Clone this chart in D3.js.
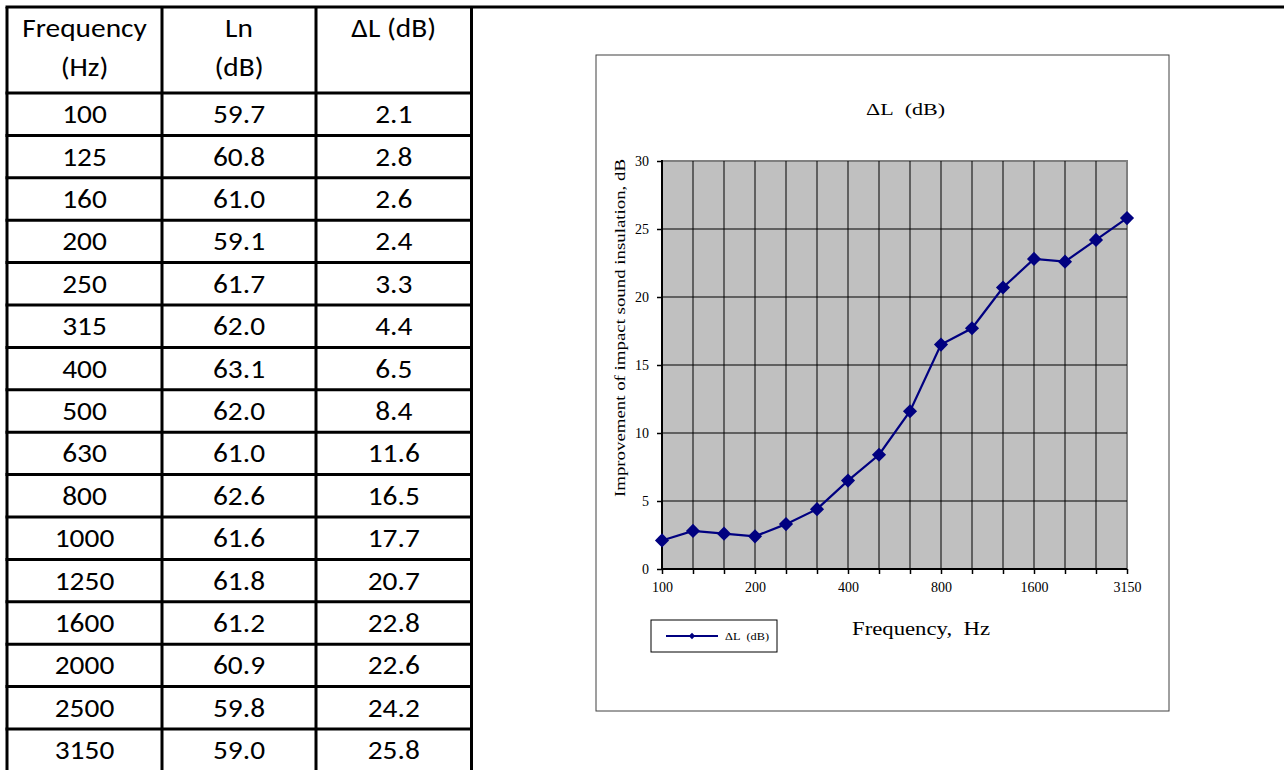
<!DOCTYPE html>
<html>
<head>
  <meta charset="utf-8"/>
  <title>Impact sound insulation</title>
  <style type="text/css">
    body {
      padding:0;
      margin:0;
      background-color:white;
    }
    .cell { font-family: Carlito, "Open Sans", Lato, sans-serif; font-size: 26px; fill: #000; }
    .chart text { font-family: "Liberation Serif", "DejaVu Serif", serif; fill: #000; }
  </style>
  <script src="https://cdn.jsdelivr.net/npm/d3@7"></script>
</head>
<body>
<script type="text/javascript">

  // DATA
  var freqs = ["100", "125", "160", "200", "250", "315", "400", "500", "630", "800",
               "1000", "1250", "1600", "2000", "2500", "3150"];
  var lnValues = ["59.7", "60.8", "61.0", "59.1", "61.7", "62.0", "63.1", "62.0",
                  "61.0", "62.6", "61.6", "61.8", "61.2", "60.9", "59.8", "59.0"];
  var deltaL = [2.1, 2.8, 2.6, 2.4, 3.3, 4.4, 6.5, 8.4, 11.6, 16.5, 17.7, 20.7, 22.8, 22.6, 24.2, 25.8];
  var xTickLabels = ["100", "200", "400", "800", "1600", "3150"];
  var yTicks = [0, 5, 10, 15, 20, 25, 30];
  var headers = [["Frequency", "(Hz)"], ["Ln", "(dB)"], ["\u0394L (dB)"]];

  var w = 1284, h = 770;

  var svg = d3.select("body").append("svg")
              .attr("width", w)
              .attr("height", h);

  // TABLE
  var colEdges = [7, 162, 316, 471.5];
  var headTop = 7, headBottom = 93, rowH = 42.4;
  var rowY = d3.scaleLinear().domain([0, 1]).range([headBottom, headBottom + rowH]);
  var stretch = 1.13; // the source picture is stretched sideways

  var tableG = svg.append("g").attr("class", "table");

  // outer top line runs across the whole page
  tableG.append("line")
        .attr("x1", colEdges[0] - 1.5).attr("x2", w)
        .attr("y1", headTop).attr("y2", headTop)
        .attr("stroke", "#000").attr("stroke-width", 3);

  // vertical column lines
  tableG.selectAll("line.col").data(colEdges).enter().append("line")
        .attr("class", "col")
        .attr("x1", function(d) { return d; }).attr("x2", function(d) { return d; })
        .attr("y1", headTop).attr("y2", h)
        .attr("stroke", "#000").attr("stroke-width", 3);

  // horizontal row lines
  var rowLines = d3.range(0, freqs.length + 1);
  tableG.selectAll("line.row").data(rowLines).enter().append("line")
        .attr("class", "row")
        .attr("x1", colEdges[0] - 1.5).attr("x2", colEdges[3] + 1.5)
        .attr("y1", function(d) { return rowY(d); }).attr("y2", function(d) { return rowY(d); })
        .attr("stroke", "#000").attr("stroke-width", 3);

  var colMid = function(i) { return (colEdges[i] + colEdges[i + 1]) / 2; };

  function cellText(t, cx, cy) {
    tableG.append("text")
          .attr("class", "cell")
          .attr("transform", "translate(" + cx + "," + cy + ") scale(" + stretch + ",1)")
          .attr("text-anchor", "middle")
          .text(t);
  }

  // header text
  headers.forEach(function(lines, i) {
    lines.forEach(function(t, j) {
      cellText(t, colMid(i), 37 + j * 39);
    });
  });

  // body text
  var rows = freqs.map(function(f, i) { return [f, lnValues[i], deltaL[i].toFixed(1)]; });
  rows.forEach(function(r, i) {
    r.forEach(function(t, j) {
      cellText(t, colMid(j), rowY(i + 0.5) + 9);
    });
  });

  // CHART
  var chart = svg.append("g").attr("class", "chart");

  chart.append("rect")
       .attr("x", 596).attr("y", 55)
       .attr("width", 573).attr("height", 656)
       .attr("fill", "white")
       .attr("stroke", "#404040").attr("stroke-width", 1);

  var plot = { left: 662, right: 1127, top: 161, bottom: 569 };

  var x = d3.scalePoint().domain(freqs).range([plot.left, plot.right]);
  var y = d3.scaleLinear().domain([0, 30]).range([plot.bottom, plot.top]);

  // plot background with grey frame
  chart.append("rect")
       .attr("x", plot.left).attr("y", plot.top)
       .attr("width", plot.right - plot.left).attr("height", plot.bottom - plot.top)
       .attr("fill", "#c0c0c0")
       .attr("stroke", "#808080").attr("stroke-width", 2);

  // gridlines
  chart.append("g").selectAll("line")
       .data(yTicks.filter(function(d) { return d > 0 && d < 30; }))
       .enter().append("line")
       .attr("x1", plot.left).attr("x2", plot.right)
       .attr("y1", function(d) { return y(d); }).attr("y2", function(d) { return y(d); })
       .attr("stroke", "#000").attr("stroke-width", 1);

  chart.append("g").selectAll("line")
       .data(freqs.slice(1, -1))
       .enter().append("line")
       .attr("x1", function(d) { return x(d); }).attr("x2", function(d) { return x(d); })
       .attr("y1", plot.top).attr("y2", plot.bottom)
       .attr("stroke", "#000").attr("stroke-width", 1);

  // axes
  var yAxis = d3.axisLeft(y).tickValues(yTicks).tickSize(5).tickPadding(8);
  var yg = chart.append("g").attr("transform", "translate(" + plot.left + ",0)").call(yAxis);

  var xAxis = d3.axisBottom(x).tickSize(5).tickPadding(8)
                .tickFormat(function(d) { return xTickLabels.indexOf(d) >= 0 ? d : ""; });
  var xg = chart.append("g").attr("transform", "translate(0," + plot.bottom + ")").call(xAxis);

  [yg, xg].forEach(function(g) {
    g.select(".domain").attr("stroke", "#000").attr("stroke-width", 2);
    g.selectAll(".tick line").attr("stroke", "#000").attr("stroke-width", 1.5);
    g.selectAll(".tick text").style("font-family", "'Liberation Serif', serif")
     .style("font-size", "14px").attr("fill", "#000");
  });
  yg.select(".domain").attr("d", "M0," + (plot.top - 1) + "V" + plot.bottom);
  xg.select(".domain").attr("d", "M" + plot.left + ",0H" + plot.right);

  // data line
  var line = d3.line()
               .x(function(d, i) { return x(freqs[i]); })
               .y(function(d) { return y(d); });

  chart.append("path")
       .datum(deltaL)
       .attr("d", line)
       .attr("fill", "none")
       .attr("stroke", "#000080")
       .attr("stroke-width", 2.2);

  var diamond = d3.symbol().type(d3.symbolSquare).size(100);
  chart.append("g").selectAll("path")
       .data(deltaL)
       .enter().append("path")
       .attr("d", diamond)
       .attr("transform", function(d, i) {
         return "translate(" + x(freqs[i]) + "," + y(d) + ") rotate(45)";
       })
       .attr("fill", "#000080");

  // titles (stretched to the widths in the source)
  chart.append("text")
       .attr("x", 866).attr("y", 115)
       .attr("textLength", 79).attr("lengthAdjust", "spacingAndGlyphs")
       .style("font-size", "16px")
       .text("\u0394L\u2002(dB)");

  chart.append("text")
       .attr("transform", "translate(625,497) rotate(-90)")
       .attr("textLength", 338).attr("lengthAdjust", "spacingAndGlyphs")
       .style("font-size", "14px")
       .text("Improvement of impact sound insulation, dB");

  chart.append("text")
       .attr("x", 852).attr("y", 635)
       .attr("textLength", 138).attr("lengthAdjust", "spacingAndGlyphs")
       .style("font-size", "19px")
       .text("Frequency,\u2002Hz");

  // legend
  var legend = chart.append("g");
  legend.append("rect")
        .attr("x", 651).attr("y", 620)
        .attr("width", 126).attr("height", 32)
        .attr("fill", "white")
        .attr("stroke", "#000").attr("stroke-width", 1);
  legend.append("line")
        .attr("x1", 666).attr("x2", 718)
        .attr("y1", 636).attr("y2", 636)
        .attr("stroke", "#000080").attr("stroke-width", 2.2);
  legend.append("path")
        .attr("d", d3.symbol().type(d3.symbolSquare).size(20))
        .attr("transform", "translate(692,636) rotate(45)")
        .attr("fill", "#000080");
  legend.append("text")
        .attr("x", 725).attr("y", 640)
        .attr("textLength", 44).attr("lengthAdjust", "spacingAndGlyphs")
        .style("font-size", "10px")
        .text("\u0394L\u2002(dB)");

</script>
</body>
</html>
